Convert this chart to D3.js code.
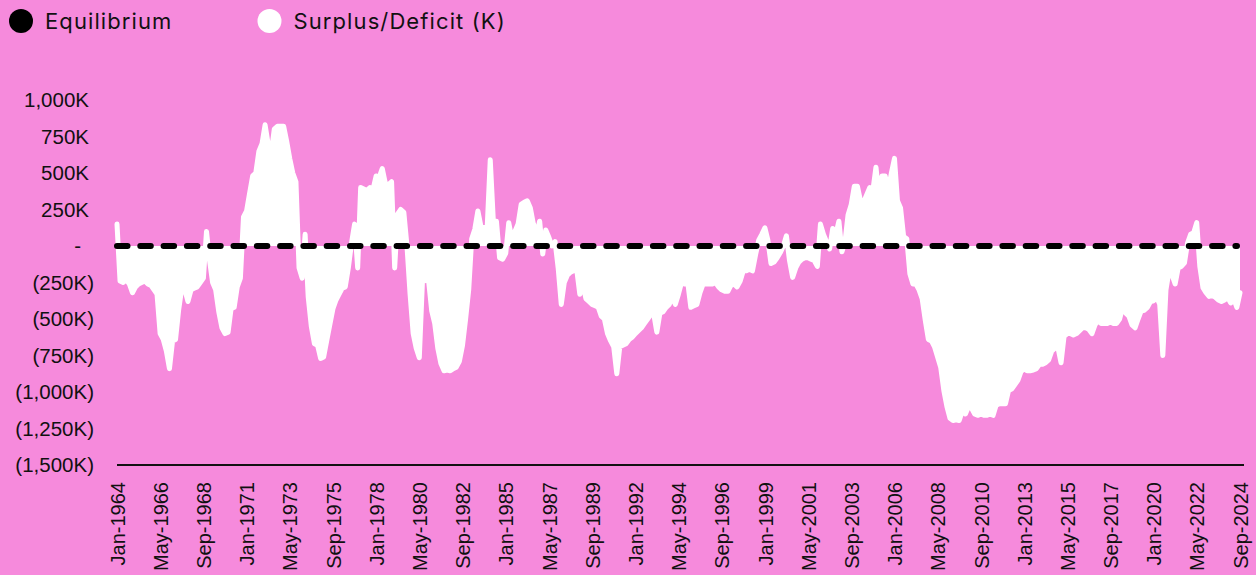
<!DOCTYPE html>
<html>
<head>
<meta charset="utf-8">
<script src="https://cdn.jsdelivr.net/npm/d3@7"></script>
<style>
  body { margin: 0; background: #F68ADC; }
  svg { display: block; }
</style>
</head>
<body>
<svg id="chart" width="1256" height="575"></svg>
<script>
/* Data */

var startMonth = "Jan-1964"; // first point, one point every 2 months
var stepMonths = 2;

// Surplus/Deficit (K), 6 points per year
var surplus = [
  150, -240, -250, -230, -260, -320,      // 1964
  -280, -260, -250, -240, -260, -270,     // 1965
  -300, -330, -600, -640, -720, -840,     // 1966
  -650, -640, -440, -290, -300, -380,     // 1967
  -300, -290, -280, -250, -220, 100,      // 1968
  -100, -250, -300, -450, -560, -600,     // 1969
  -590, -430, -420, -280, -220, 200,      // 1970
  240, 360, 480, 500, 650, 700,           // 1971
  830, 700, 640, 800, 820, 820,           // 1972
  820, 720, 600, 500, 440, -150,          // 1973
  -220, 80, -350, -550, -670, -680,       // 1974
  -770, -760, -650, -540, -430, -370,     // 1975
  -330, -290, -280, -150, 20, 150,        // 1976
  -150, 400, 390, 380, 400, 390,          // 1977
  480, 470, 530, 430, 420, 440,           // 1978
  -150, 220, 250, 230, 0, -330,           // 1979
  -600, -700, -765, -250, -230, -240,     // 1980
  -445, -530, -700, -805, -855, -850,     // 1981
  -855, -840, -830, -790, -680, -500,     // 1982
  -300, 50, 115, 240, 130, 125,           // 1983
  130, 590, 170, 170, -80, -90,           // 1984
  -50, 160, 50, 100, 150, 285,            // 1985
  300, 310, 260, 150, 80, 170,            // 1986
  -55, 110, 60, 0, 30, -150,              // 1987
  -400, -250, -200, -180, -170, -160,     // 1988
  -330, -260, -360, -380, -400, -410,     // 1989
  -420, -480, -500, -600, -650, -690,     // 1990
  -875, -690, -680, -670, -640, -625,     // 1991
  -600, -580, -560, -530, -500, -470,     // 1992
  -470, -590, -460, -450, -420, -400,     // 1993
  -350, -400, -330, -250, -260, -250,     // 1994
  -420, -410, -400, -320, -260, -260,     // 1995
  -260, -260, -250, -280, -300, -310,     // 1996
  -310, -270, -260, -280, -240, -170,     // 1997
  -170, -160, -170, -60, 40, 80,          // 1998
  125, 40, -120, -110, -80, -45,          // 1999
  0, 70, -100, -215, -150, -110,          // 2000
  -90, -80, -80, -90, -100, -140,         // 2001
  150, 80, 30, -20, 120, 80,              // 2002
  170, -40, 30, 215, 285, 410,            // 2003
  410, 310, 300, 350, 400, 380,           // 2004
  540, 350, 480, 480, 380, 500,           // 2005
  600, 310, 260, 65, 50, -190,            // 2006
  -260, -260, -300, -360, -510, -640,     // 2007
  -650, -690, -760, -830, -990, -1100,    // 2008
  -1180, -1195, -1190, -1195, -1130, -1150, // 2009
  -1100, -1110, -1150, -1160, -1150, -1160, // 2010
  -1160, -1150, -1160, -1090, -1080, -1080, // 2011
  -1080, -990, -980, -950, -920, -860,    // 2012
  -840, -855, -855, -850, -840, -810,     // 2013
  -810, -800, -780, -720, -700, -695,     // 2014
  -800, -620, -600, -600, -610, -600,     // 2015
  -580, -560, -560, -570, -600, -540,     // 2016
  -510, -530, -530, -530, -520, -530,     // 2017
  -530, -500, -420, -460, -480, -540,     // 2018
  -560, -500, -445, -440, -420, -380,     // 2019
  -375, -350, -400, -750, -300, -170,     // 2020
  -200, -260, -150, -140, -115, 20,       // 2021
  80, 90, 160, -140, -285, -320,          // 2022
  -345, -340, -350, -370, -380, -370,     // 2023
  -350, -390, -360, -420, -320            // 2024 (to Sep)
];

var equilibrium = 0;

var xTickLabels = ["Jan-1964", "May-1966", "Sep-1968", "Jan-1971", "May-1973", "Sep-1975",
  "Jan-1978", "May-1980", "Sep-1982", "Jan-1985", "May-1987", "Sep-1989", "Jan-1992",
  "May-1994", "Sep-1996", "Jan-1999", "May-2001", "Sep-2003", "Jan-2006", "May-2008",
  "Sep-2010", "Jan-2013", "May-2015", "Sep-2017", "Jan-2020", "May-2022", "Sep-2024"];

var yTicks = [-1500, -1250, -1000, -750, -500, -250, 0, 250, 500, 750, 1000];

var legendItems = [
  {label: "Equilibrium", color: "#000000"},
  {label: "Surplus/Deficit (K)", color: "#ffffff"}
];

/* Setup */

var parseMonth = d3.timeParse("%b-%Y");
var start = parseMonth(startMonth);

var data = surplus.map(function(v, i) {
  return {date: d3.timeMonth.offset(start, i * stepMonths), value: v};
});

var svg = d3.select("#chart");

var x = d3.scaleTime()
  .domain([start, data[data.length - 1].date])
  .range([117, 1240]);

var y = d3.scaleLinear()
  .domain([-1500, 1000])
  .range([465, 100]);

/* Area */

var area = d3.area()
  .x(function(d) { return x(d.date); })
  .y0(y(equilibrium))
  .y1(function(d) { return y(d.value); });

var line = d3.line()
  .x(function(d) { return x(d.date); })
  .y(function(d) { return y(d.value); });

svg.append("path")
  .datum(data)
  .attr("d", area)
  .attr("fill", "#ffffff");

svg.append("path")
  .datum(data)
  .attr("d", line)
  .attr("fill", "none")
  .attr("stroke", "#ffffff")
  .attr("stroke-width", 5)
  .attr("stroke-linejoin", "round")
  .attr("stroke-linecap", "round");

/* Equilibrium dashed line */

svg.append("line")
  .attr("x1", x(start))
  .attr("x2", x(data[data.length - 1].date) - 3)
  .attr("y1", y(equilibrium))
  .attr("y2", y(equilibrium))
  .attr("stroke", "#000")
  .attr("stroke-width", 6)
  .attr("stroke-linecap", "round")
  .attr("stroke-dasharray", "10.5 12.8");

/* Axes */

var fmtNum = d3.format(",");
function fmtK(v) {
  if (v === 0) return "-";
  return v < 0 ? "(" + fmtNum(-v) + "K)" : fmtNum(v) + "K";
}

var yAxis = svg.append("g")
  .call(d3.axisLeft(y).tickValues(yTicks).tickSize(0).tickFormat(fmtK));
yAxis.select(".domain").remove();
yAxis.selectAll("text")
  .attr("x", function(d) { return d < 0 ? 94 : (d === 0 ? 81 : 89); })
  .attr("font-family", "'Liberation Sans', Arial, sans-serif")
  .attr("font-size", 20.5)
  .attr("fill", "#111");

var xTickDates = xTickLabels.map(parseMonth);

svg.append("line")
  .attr("x1", 117)
  .attr("x2", 1244)
  .attr("y1", y(-1500))
  .attr("y2", y(-1500))
  .attr("stroke", "#111")
  .attr("stroke-width", 2);

var xAxis = svg.append("g")
  .attr("transform", "translate(0," + y(-1500) + ")")
  .call(d3.axisBottom(x).tickValues(xTickDates).tickSize(0).tickFormat(d3.timeFormat("%b-%Y")));
xAxis.select(".domain").remove();
xAxis.selectAll("text")
  .attr("font-family", "'Liberation Sans', Arial, sans-serif")
  .attr("font-size", 20)
  .attr("fill", "#111")
  .attr("text-anchor", "end")
  .attr("transform", "rotate(-90)")
  .attr("x", -17)
  .attr("y", 0)
  .attr("dy", "0.36em");

/* Legend */

var legend = svg.append("g").selectAll("g")
  .data(legendItems)
  .enter().append("g")
  .attr("transform", function(d, i) { return "translate(" + (21 + i * 248.5) + ",21)"; });

legend.append("circle")
  .attr("r", 12)
  .attr("fill", function(d) { return d.color; });

legend.append("text")
  .attr("x", 24)
  .attr("y", 7.5)
  .attr("font-family", "Inter, 'Open Sans', sans-serif")
  .attr("font-size", 22)
  .attr("letter-spacing", 1.1)
  .attr("fill", "#111")
  .text(function(d) { return d.label; });
</script>
</body>
</html>
